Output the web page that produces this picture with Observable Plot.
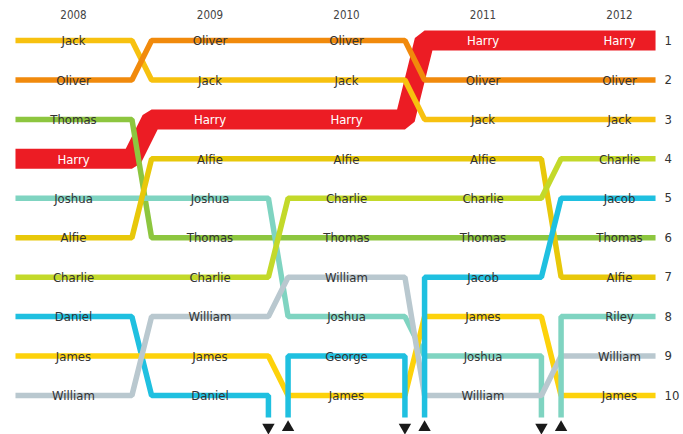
<!DOCTYPE html>
<html>
<head>
<meta charset="utf-8">
<script src="https://cdn.jsdelivr.net/npm/d3@7"></script>
<script src="https://cdn.jsdelivr.net/npm/@observablehq/plot@0.6"></script>
<style>
  html, body { margin: 0; padding: 0; background: #fff; }
  #chart svg { display: block; }
</style>
</head>
<body>
<div id="chart"></div>
<script>
// ---- Data ----
const years = [2008, 2009, 2010, 2011, 2012];
const rank2008 = ["Jack", "Oliver", "Thomas", "Harry", "Joshua", "Alfie", "Charlie", "Daniel", "James", "William"];
const rank2009 = ["Oliver", "Jack", "Harry", "Alfie", "Joshua", "Thomas", "Charlie", "William", "James", "Daniel"];
const rank2010 = ["Oliver", "Jack", "Harry", "Alfie", "Charlie", "Thomas", "William", "Joshua", "George", "James"];
const rank2011 = ["Harry", "Oliver", "Jack", "Alfie", "Charlie", "Thomas", "Jacob", "James", "Joshua", "William"];
const rank2012 = ["Harry", "Oliver", "Jack", "Charlie", "Jacob", "Thomas", "Alfie", "Riley", "William", "James"];
const rankings = [rank2008, rank2009, rank2010, rank2011, rank2012];
const rankNumbers = [1, 2, 3, 4, 5, 6, 7, 8, 9, 10];

const names  = ["Harry", "Jack", "Oliver", "Thomas", "Joshua", "Alfie", "Charlie", "Daniel", "James", "William", "George", "Jacob", "Riley"];
const colors = ["#ec1c24", "#f7c10f", "#f18a0c", "#8dc63f", "#7fd4c1", "#e8c80a", "#c3d92a", "#1fc0e0", "#fdd20b", "#b9c8cf", "#1fc0e0", "#1fc0e0", "#7fd4c1"];
const highlight = "Harry";

// ---- Layout constants (in year units) ----
const leftEdge = 2008 - 0.425;
const rightEdge = 2012 + 0.264;
const hw = 0.072;          // half-width of the transition
const offRank = 10.56;     // where exiting/entering lines leave the chart
const markerRank = 10.81;

// Build line points
const lines = [];
const markers = [];
names.forEach((name) => {
  let seg = 0;
  let prevIn = false;
  years.forEach((yr, i) => {
    const r = rankings[i].indexOf(name);
    const inNow = r >= 0;
    const xs = i === 0 ? leftEdge : yr - 0.5 + hw;
    const xe = i === years.length - 1 ? rightEdge : yr + 0.5 - hw;
    if (inNow) {
      if (!prevIn && i > 0) {
        lines.push({name, seg, x: xs, y: offRank});
        markers.push({x: xs, dir: "up"});
      }
      lines.push({name, seg, x: xs, y: r + 1});
      lines.push({name, seg, x: xe, y: r + 1});
      const nextIn = i < years.length - 1 && rankings[i + 1].indexOf(name) >= 0;
      if (i < years.length - 1 && !nextIn) {
        lines.push({name, seg, x: xe, y: offRank});
        markers.push({x: xe, dir: "down"});
        seg++;
      }
    }
    prevIn = inNow;
  });
});

const labels = [];
years.forEach((yr, i) => rankings[i].forEach((name, r) => labels.push({year: yr, rank: r + 1, name})));

const colorOf = Object.fromEntries(names.map((n, i) => [n, colors[i]]));
const font = "'Liberation Sans Narrow', 'DejaVu Sans Condensed', 'Roboto', sans-serif";

const others = lines.filter(d => d.name !== highlight);
const harry = lines.filter(d => d.name === highlight);

const chart = Plot.plot({
  width: 683,
  height: 434,
  marginTop: 0, marginBottom: 0, marginLeft: 0, marginRight: 0,
  x: {domain: [2008, 2012], range: [73, 619], axis: null},
  y: {domain: [1, 10], range: [40, 395], axis: null},
  style: {fontFamily: font, background: "#fff"},
  marks: [
    Plot.line(harry, {x: "x", y: "y", z: d => d.name + d.seg, stroke: colorOf[highlight], strokeWidth: 20, strokeLinejoin: "miter", strokeLinecap: "butt", curve: "linear"}),
    Plot.line(others, {x: "x", y: "y", z: d => d.name + d.seg, stroke: d => colorOf[d.name], strokeWidth: 5.5, strokeLinejoin: "miter", strokeLinecap: "butt", curve: "linear"}),
    Plot.text(labels, {x: "year", y: "rank", text: "name", fontSize: 13, dy: 0.5,
      fill: d => d.name === highlight ? "#fff" : "#333",
      fontWeight: d => d.name === highlight ? "bold" : "normal"}),
    Plot.text(years, {x: d => d, y: 0.37, text: d => String(d), fontSize: 11.5, fill: "#444"}),
    Plot.text(rankNumbers, {x: 2012.33, y: d => d, text: d => String(d), textAnchor: "start", fontSize: 13, fill: "#333"}),
    Plot.dot(markers, {x: "x", y: markerRank, symbol: "triangle", r: 4.6, fill: "#1a1a1a", stroke: null,
      rotate: d => d.dir === "down" ? 180 : 0})
  ]
});
document.getElementById("chart").appendChild(chart);
</script>
</body>
</html>
